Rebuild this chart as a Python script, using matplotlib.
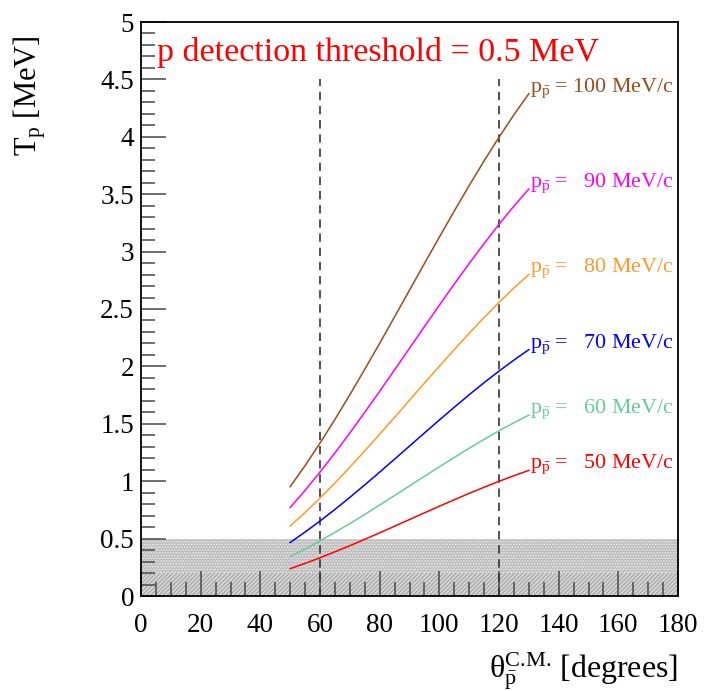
import numpy as np
import matplotlib
matplotlib.use("Agg")
import matplotlib.pyplot as plt

plt.rcParams['font.family'] = ['Liberation Serif', 'DejaVu Serif']
plt.rcParams['mathtext.fontset'] = 'custom'
plt.rcParams['mathtext.rm'] = 'Liberation Serif'
plt.rcParams['mathtext.it'] = 'Liberation Serif:italic'
plt.rcParams['hatch.linewidth'] = 0.8

# recoil proton kinetic energy vs CM angle, one curve per antiproton momentum
theta = [50, 55, 60, 65, 70, 75, 80, 85, 90, 95, 100, 105, 110, 115, 120, 125, 130]
momenta = [100, 90, 80, 70, 60, 50]
t_100 = [0.952, 1.136, 1.332, 1.538, 1.753, 1.975, 2.201, 2.432, 2.664,
         2.896, 3.126, 3.353, 3.575, 3.790, 3.996, 4.192, 4.376]
t_90 = [0.771, 0.920, 1.079, 1.246, 1.420, 1.600, 1.783, 1.970, 2.158,
        2.346, 2.533, 2.717, 2.896, 3.070, 3.237, 3.396, 3.545]
t_80 = [0.609, 0.727, 0.853, 0.984, 1.122, 1.264, 1.409, 1.556, 1.705,
        1.854, 2.001, 2.146, 2.288, 2.426, 2.558, 2.683, 2.801]
t_70 = [0.466, 0.557, 0.653, 0.754, 0.859, 0.968, 1.079, 1.192, 1.306,
        1.420, 1.533, 1.644, 1.753, 1.858, 1.959, 2.055, 2.146]
t_60 = [0.343, 0.409, 0.480, 0.554, 0.631, 0.711, 0.793, 0.875, 0.959,
        1.043, 1.125, 1.207, 1.287, 1.364, 1.439, 1.509, 1.576]
t_50 = [0.238, 0.284, 0.333, 0.385, 0.438, 0.494, 0.550, 0.608, 0.666,
        0.724, 0.782, 0.838, 0.894, 0.947, 0.999, 1.048, 1.094]
curves = [t_100, t_90, t_80, t_70, t_60, t_50]
colors = ["#9a4c1c", "#ff00ff", "#ff9a2a", "#0000ff", "#66cc99", "#ff0000"]

threshold = 0.5
cuts = [60, 120]

fig = plt.figure(figsize=(7.2, 6.91), dpi=100)
ax = fig.add_axes([141/720, 1-596/691, (678-141)/720, (596-22)/691])

# shaded region below detection threshold
ax.fill_between([0, 180], 0, threshold, facecolor="#bdbdbd", edgecolor="#ececec",
                hatch="......", lw=0, zorder=1)
ax.fill_between([0, 180], 0, 0.2, facecolor="#d6d6d6", edgecolor="#a4a4a4",
                hatch="////////", lw=0, zorder=1)

for c in cuts:
    ax.plot([c, c], [0, 4.5], ls=(0, (5, 3.5)), color="#333333", lw=1.2, zorder=2)

for p, t, col in zip(momenta, curves, colors):
    ax.plot(theta, t, color=col, lw=1.1, zorder=3)
    pad = "" if p >= 100 else "\u2007"
    ax.text(theta[-1] + 0.3, t[-1] + 0.05,
            r"$\mathrm{p}_{\bar{\mathrm{p}}}$ = " + pad + "%d MeV/c" % p,
            color=col, fontsize=15.8, ha="left", va="center", zorder=4)

ax.text(5.4, 4.66, "p detection threshold = 0.5 MeV", color="red",
        fontsize=24.5, ha="left", va="baseline")

ax.set_xlim(0, 180)
ax.set_ylim(0, 5)
ax.set_xticks(np.arange(0, 181, 20))
ax.set_xticks(np.arange(0, 181, 5), minor=True)
ax.set_yticks(np.arange(0, 5.01, 0.5))
ax.set_yticks(np.arange(0, 5.01, 0.1), minor=True)
ax.set_yticklabels(["0", "0.5", "1", "1.5", "2", "2.5", "3", "3.5", "4", "4.5", "5"])
ax.tick_params(which="both", direction="in", top=False, right=False,
               labelsize=19.5, width=1.2, color="#555555")
ax.tick_params(which="major", length=18)
ax.tick_params(which="minor", length=10)
ax.tick_params(axis="x", which="major", pad=12)
ax.tick_params(axis="y", which="major", pad=5)
for s in ax.spines.values():
    s.set_linewidth(1.3)

fig.text(678/720, 1-677/691,
         r"$\mathrm{\theta}_{\bar{\mathrm{p}}}^{\text{C.M.}}$ [degrees]",
         fontsize=23, ha="right", va="baseline")
fig.text(30/720, 1-35/691, r"T$_{\mathrm{p}}$ [MeV]", fontsize=22,
         rotation=90, ha="center", va="top")

fig.savefig("out.png", dpi=100)
